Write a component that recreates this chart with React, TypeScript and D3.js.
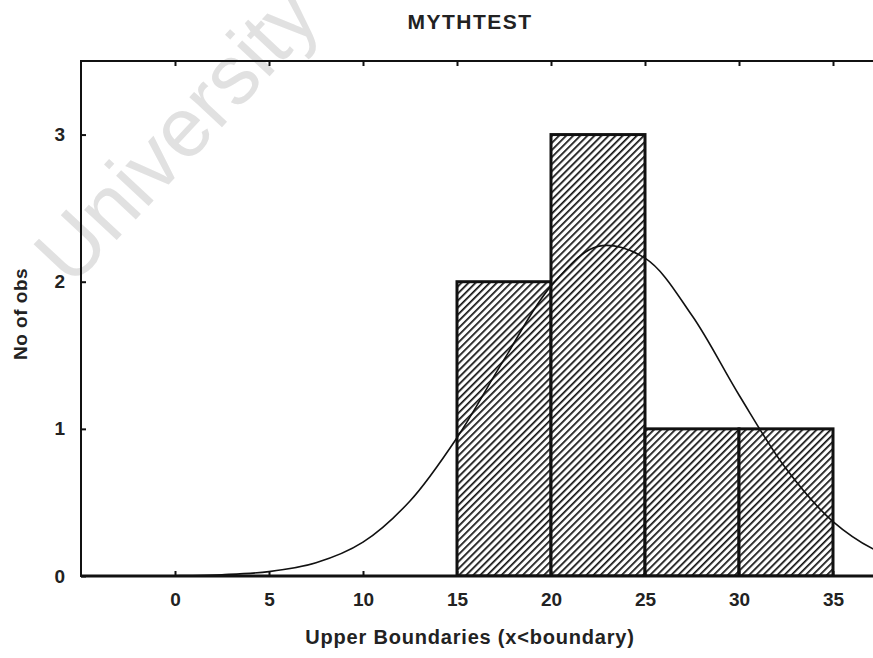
import * as d3 from "d3";
import React, { useEffect, useRef } from "react";

// histogram: bins by upper boundary
const binStarts = [15, 20, 25, 30];
const binWidth = 5;
const counts = [2, 3, 1, 1];

// expected normal curve
const curveX = [-5, 0, 2.5, 5, 7.5, 10, 12.5, 15, 17.5, 20, 22.5, 25, 27.5, 30, 32.5, 35, 37.5, 40];
const curveY = [0, 0.002, 0.009, 0.03, 0.09, 0.23, 0.51, 0.94, 1.47, 1.97, 2.24, 2.16, 1.77, 1.23, 0.73, 0.37, 0.16, 0.06];

const xTicks = [0, 5, 10, 15, 20, 25, 30, 35];
const yTicks = [0, 1, 2, 3];

const title = "MYTHTEST";
const xTitle = "Upper Boundaries (x<boundary)";
const yTitle = "No of obs";
const watermark = "University";

function App() {
  const ref = useRef<SVGSVGElement>(null);

  useEffect(() => {
    const svg = d3.select(ref.current);
    svg.selectAll("*").remove();

    const width = 873;
    const height = 658;
    const margin = { top: 61, left: 81, bottom: 82, right: -54 };
    const iwidth = width - margin.left - margin.right;
    const iheight = height - margin.top - margin.bottom;
    const font = "'Liberation Sans', Arial, sans-serif";

    const defs = svg.append("defs");
    const pat = defs.append("pattern")
      .attr("id", "hatch")
      .attr("patternUnits", "userSpaceOnUse")
      .attr("width", 5)
      .attr("height", 5)
      .attr("patternTransform", "rotate(45)");
    pat.append("rect").attr("width", 5).attr("height", 5).attr("fill", "#fff");
    pat.append("line")
      .attr("x1", 0).attr("y1", 0).attr("x2", 0).attr("y2", 5)
      .attr("stroke", "#111").attr("stroke-width", 3.4);

    defs.append("clipPath").attr("id", "plotclip")
      .append("rect").attr("width", iwidth).attr("height", iheight);

    // watermark
    svg.append("text")
      .attr("transform", "translate(176,134) rotate(-47)")
      .attr("text-anchor", "middle")
      .attr("dominant-baseline", "central")
      .attr("font-family", font)
      .attr("font-size", 84)
      .attr("fill", "#e1e1e1")
      .text(watermark);

    const x = d3.scaleLinear().domain([-5, 40]).range([0, iwidth]);
    const y = d3.scaleLinear().domain([0, 3.5]).range([iheight, 0]);

    const g = svg.append("g").attr("transform", `translate(${margin.left},${margin.top})`);

    const plot = g.append("g").attr("clip-path", "url(#plotclip)");

    plot.selectAll("rect.bar")
      .data(counts)
      .enter().append("rect")
      .attr("class", "bar")
      .attr("x", (d, i) => x(binStarts[i]))
      .attr("y", d => y(d))
      .attr("width", x(binWidth) - x(0))
      .attr("height", d => y(0) - y(d))
      .attr("fill", "url(#hatch)")
      .attr("stroke", "#111")
      .attr("stroke-width", 3);

    const line = d3.line<number>()
      .x((d, i) => x(curveX[i]))
      .y(d => y(d))
      .curve(d3.curveCatmullRom);

    plot.append("path")
      .datum(curveY)
      .attr("d", line)
      .attr("fill", "none")
      .attr("stroke", "#111")
      .attr("stroke-width", 1.6);

    // frame
    g.append("rect")
      .attr("width", iwidth).attr("height", iheight)
      .attr("fill", "none").attr("stroke", "#111").attr("stroke-width", 2);
    g.append("line")
      .attr("x1", 0).attr("x2", iwidth).attr("y1", iheight).attr("y2", iheight)
      .attr("stroke", "#111").attr("stroke-width", 3);

    // inward ticks
    const xb = g.append("g").attr("transform", `translate(0,${iheight})`)
      .call(d3.axisBottom(x).tickValues(xTicks).tickSizeInner(-5).tickSizeOuter(0).tickPadding(17));
    const xt = g.append("g")
      .call(d3.axisTop(x).tickValues(xTicks).tickSizeInner(-5).tickSizeOuter(0).tickFormat(() => ""));
    const yl = g.append("g")
      .call(d3.axisLeft(y).tickValues(yTicks).tickFormat(d3.format("d")).tickSizeInner(-5).tickSizeOuter(0).tickPadding(16));

    [xb, xt, yl].forEach(a => {
      a.select(".domain").remove();
      a.selectAll("line").attr("stroke", "#111").attr("stroke-width", 2);
      a.selectAll("text")
        .attr("font-family", font)
        .attr("font-size", 19)
        .attr("font-weight", "bold")
        .attr("fill", "#222");
    });

    svg.append("text")
      .attr("x", 470).attr("y", 29)
      .attr("text-anchor", "middle")
      .attr("font-family", font)
      .attr("font-size", 21)
      .attr("font-weight", "bold")
      .attr("letter-spacing", 1.5)
      .attr("fill", "#222")
      .text(title);

    svg.append("text")
      .attr("x", 470).attr("y", 644)
      .attr("text-anchor", "middle")
      .attr("font-family", font)
      .attr("font-size", 20)
      .attr("font-weight", "bold")
      .attr("letter-spacing", 0.8)
      .attr("fill", "#222")
      .text(xTitle);

    svg.append("text")
      .attr("transform", "translate(27,314) rotate(-90)")
      .attr("text-anchor", "middle")
      .attr("font-family", font)
      .attr("font-size", 19)
      .attr("font-weight", "bold")
      .attr("letter-spacing", 0.5)
      .attr("fill", "#222")
      .text(yTitle);
  }, []);

  return (
    <svg
      ref={ref}
      width={873}
      height={658}
      style={{ position: "absolute", left: 0, top: 0, background: "#fff" }}
    />
  );
}

export default App;
